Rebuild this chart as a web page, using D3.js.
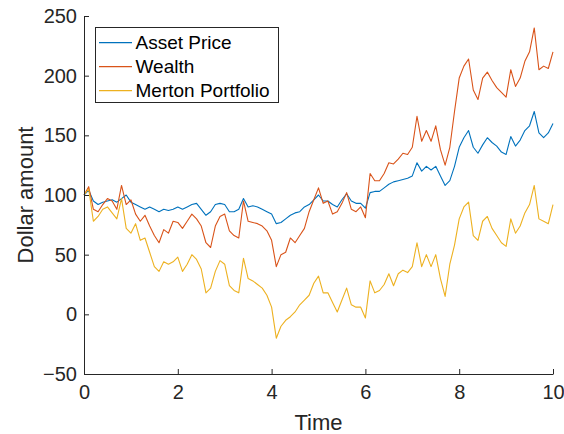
<!DOCTYPE html>
<html>
<head>
<meta charset="utf-8">
<script src="https://cdn.jsdelivr.net/npm/d3@7"></script>
<style>
  html, body { margin: 0; padding: 0; background: #fff; }
  text { font-family: "Liberation Sans", Arial, Helvetica, sans-serif; }
</style>
</head>
<body>
<svg id="chart" width="564" height="434"></svg>
<script>
// ---- data ----
const time = [0.0,0.1,0.2,0.3,0.4,0.5,0.6,0.7,0.8,0.9,
  1.0,1.1,1.2,1.3,1.4,1.5,1.6,1.7,1.8,1.9,
  2.0,2.1,2.2,2.3,2.4,2.5,2.6,2.7,2.8,2.9,
  3.0,3.1,3.2,3.3,3.4,3.5,3.6,3.7,3.8,3.9,
  4.0,4.1,4.2,4.3,4.4,4.5,4.6,4.7,4.8,4.9,
  5.0,5.1,5.2,5.3,5.4,5.5,5.6,5.7,5.8,5.9,
  6.0,6.1,6.2,6.3,6.4,6.5,6.6,6.7,6.8,6.9,
  7.0,7.1,7.2,7.3,7.4,7.5,7.6,7.7,7.8,7.9,
  8.0,8.1,8.2,8.3,8.4,8.5,8.6,8.7,8.8,8.9,
  9.0,9.1,9.2,9.3,9.4,9.5,9.6,9.7,9.8,9.9,10.0];

const assetPrice = [100,104,95,92,94,95,96,94,97,100,
  94,92,90,88,90,88,86,88,87,88,
  90,88,90,92,93,88,83,86,92,93,
  92,86,86,88,97,90,91,90,88,86,
  84,76,77,80,83,85,86,90,92,96,
  100,95,95,92,90,96,101,95,93,93,
  89,102,103,103,106,109,111,112,113,114,
  116,127,120,124,121,124,116,108,112,124,
  140,148,154,140,135,142,148,144,141,136,
  134,149,141,146,154,158,170,152,148,152,160];

const wealth = [100,107,88,86,92,97,95,88,108,92,
  96,84,78,83,74,66,60,71,68,78,
  77,72,78,84,80,74,60,56,74,82,
  84,70,66,64,95,78,77,76,74,70,
  62,40,50,52,64,60,66,72,86,96,
  106,93,95,84,86,93,102,88,86,90,
  81,118,112,112,118,127,126,130,135,134,
  140,166,145,154,145,158,138,125,140,170,
  198,208,214,188,180,198,203,196,190,186,
  182,205,191,198,212,220,240,205,208,206,220];

const merton = [100,105,78,82,88,90,85,80,97,72,
  68,76,62,64,52,40,36,44,42,44,
  48,36,42,50,46,38,18,22,36,45,
  42,24,20,18,47,30,28,25,22,16,
  6,-20,-10,-5,-2,2,8,12,16,26,
  32,18,18,10,2,12,22,8,6,6,
  -3,28,18,20,25,34,24,34,37,35,
  40,60,40,50,40,50,30,15,42,58,
  80,90,94,66,62,78,82,72,66,60,
  57,80,68,74,85,92,108,80,78,76,92];

const seriesNames = ["Asset Price", "Wealth", "Merton Portfolio"];
const seriesColors = ["#0072BD", "#D95319", "#EDB120"];
const xTicks = [0, 2, 4, 6, 8, 10];
const yTicks = [-50, 0, 50, 100, 150, 200, 250];

// ---- drawing ----
const svg = d3.select("#chart");
const axisColor = "#262626";
const plotLeft = 84, plotRight = 553, plotTop = 16, plotBottom = 374;

const x = d3.scaleLinear().domain([0, 10]).range([plotLeft, plotRight]);
const y = d3.scaleLinear().domain([-50, 250]).range([plotBottom, plotTop]);

const seriesData = [assetPrice, wealth, merton];

const line = d3.line()
  .x((d, i) => x(time[i]))
  .y(d => y(d));

svg.append("g").selectAll("path")
  .data(seriesData)
  .join("path")
  .attr("d", d => line(d))
  .attr("fill", "none")
  .attr("stroke", (d, i) => seriesColors[i])
  .attr("stroke-width", 1.1)
  .attr("stroke-linejoin", "round");

// axes
const xAxis = d3.axisBottom(x).tickValues(xTicks).tickSizeInner(-5).tickSizeOuter(0).tickPadding(11);
const yAxis = d3.axisLeft(y).tickValues(yTicks).tickSizeInner(-5).tickSizeOuter(0).tickPadding(7);

const gx = svg.append("g").attr("transform", `translate(0,${plotBottom})`).call(xAxis);
const gy = svg.append("g").attr("transform", `translate(${plotLeft},0)`).call(yAxis);

[gx, gy].forEach(g => {
  g.select(".domain").attr("stroke", axisColor).attr("stroke-width", 1);
  g.selectAll(".tick line").attr("stroke", axisColor).attr("stroke-width", 1);
  g.selectAll(".tick text")
    .attr("fill", axisColor)
    .attr("font-size", "20px")
    .attr("font-family", "'Liberation Sans', Arial, sans-serif");
});
gx.selectAll(".tick text").attr("dy", "0.71em");

// axis labels
svg.append("text")
  .attr("x", (plotLeft + plotRight) / 2)
  .attr("y", 430)
  .attr("text-anchor", "middle")
  .attr("font-size", "22px")
  .attr("fill", axisColor)
  .text("Time");

svg.append("text")
  .attr("transform", `translate(33,${(plotTop + plotBottom) / 2}) rotate(-90)`)
  .attr("text-anchor", "middle")
  .attr("font-size", "22px")
  .attr("fill", axisColor)
  .text("Dollar amount");

// legend
const legend = svg.append("g");
legend.append("rect")
  .attr("x", 95.5).attr("y", 27.5)
  .attr("width", 183).attr("height", 75)
  .attr("fill", "#fff")
  .attr("stroke", axisColor)
  .attr("stroke-width", 1);

seriesNames.forEach((name, i) => {
  const cy = 42.7 + i * 24;
  legend.append("line")
    .attr("x1", 99).attr("x2", 132)
    .attr("y1", cy).attr("y2", cy)
    .attr("stroke", seriesColors[i])
    .attr("stroke-width", 1.2);
  legend.append("text")
    .attr("x", 135.5).attr("y", cy)
    .attr("dy", "0.35em")
    .attr("font-size", "19px")
    .attr("fill", "#000")
    .text(name);
});
</script>
</body>
</html>
